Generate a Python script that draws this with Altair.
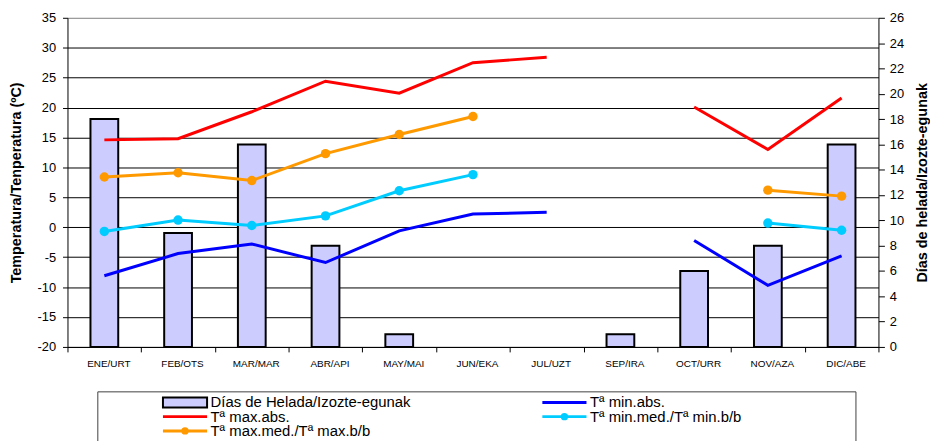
import altair as alt
import pandas as pd

months = ["ENE/URT", "FEB/OTS", "MAR/MAR", "ABR/API", "MAY/MAI", "JUN/EKA",
          "JUL/UZT", "AGO/ABU", "SEP/IRA", "OCT/URR", "NOV/AZA", "DIC/ABE"]
frost_days = [18, 9, 16, 8, 1, 0, 0, 0, 1, 6, 8, 16]
t_min_abs = [-8.1, -4.4, -2.8, -5.9, -0.6, 2.2, 2.5, None, None, -2.2, -9.7, -4.8]
t_max_abs = [14.6, 14.8, 19.3, 24.4, 22.4, 27.5, 28.4, None, None, 20.1, 13.0, 21.6]
t_min_med = [-0.7, 1.2, 0.3, 1.9, 6.1, 8.8, None, None, None, None, 0.7, -0.5]
t_max_med = [8.4, 9.1, 7.8, 12.3, 15.5, 18.5, None, None, None, None, 6.2, 5.2]

lbl_bar = "Días de Helada/Izozte-egunak"
lbl_min_abs = "Tª min.abs."
lbl_max_abs = "Tª max.abs."
lbl_min_med = "Tª min.med./Tª min.b/b"
lbl_max_med = "Tª max.med./Tª max.b/b"

series_names = [lbl_min_abs, lbl_max_abs, lbl_min_med, lbl_max_med]
series_vals = [t_min_abs, t_max_abs, t_min_med, t_max_med]
series_colors = ["#0000FF", "#FF0000", "#00CCFF", "#FF9900"]
marker_series = [lbl_min_med, lbl_max_med]

temp_ticks = [-20, -15, -10, -5, 0, 5, 10, 15, 20, 25, 30, 35]
day_ticks = [0, 2, 4, 6, 8, 10, 12, 14, 16, 18, 20, 22, 24, 26]

FONT = "Liberation Sans"

df_bars = pd.DataFrame({"month": months, "days": frost_days})

rows = []
for name, vals in zip(series_names, series_vals):
    seg = 0
    for m, v in zip(months, vals):
        if v is None:
            seg += 1
            continue
        rows.append({"month": m, "series": name, "value": v, "seg": f"{name}-{seg}"})
df_lines = pd.DataFrame(rows)

x_enc = alt.X(
    "month:N", sort=months,
    scale=alt.Scale(paddingInner=0, paddingOuter=0),
    axis=alt.Axis(title=None, labelAngle=0, tickBand="extent", grid=False,
                  labelFont="Liberation Sans Narrow, Arial Narrow, Liberation Sans",
                  labelFontSize=10, labelColor="black", labelPadding=7,
                  labelOffset=4, domainColor="black", tickColor="black",
                  tickSize=5),
)

bars = alt.Chart(df_bars).transform_filter("datum.days > 0").mark_bar(
    width=28, fill="#CCCCFF", stroke="black", strokeWidth=2
).encode(
    x=x_enc,
    y=alt.Y("days:Q", scale=alt.Scale(domain=[0, 26], nice=False, zero=True),
            axis=alt.Axis(orient="right", values=day_ticks,
                          title="Días de helada/Izozte-egunak", grid=False,
                          titleFont=FONT, titleFontSize=14.5, titleFontWeight="bold",
                          titleColor="black", titleAngle=270, titleX=44, titleY=166,
                          titleBaseline="middle", titleAlign="center",
                          labelFontSize=13, labelColor="black", labelPadding=5,
                          labelOverlap=False,
                          domainColor="black", tickColor="black", tickSize=6)),
)

temp_scale = alt.Scale(domain=[-20, 35], nice=False, zero=False)
left_axis = alt.Axis(orient="left", values=temp_ticks,
                     title="Temperatura/Tenperatura (ºC)",
                     titleFont=FONT, titleFontSize=14.5, titleFontWeight="bold",
                     titleColor="black", titleAngle=270, titleX=-51, titleY=166,
                     titleBaseline="middle", titleAlign="center",
                     labelFontSize=13, labelColor="black", labelPadding=7,
                     labelOverlap=False, labelExpr="'' + datum.value",
                     domainColor="black", tickColor="black", tickSize=5,
                     grid=True, gridWidth=1,
                     gridColor={"condition": {"test": "datum.value === 35",
                                              "value": "#808080"},
                                "value": "#000000"})
color_enc = alt.Color("series:N", scale=alt.Scale(domain=series_names, range=series_colors),
                      legend=None)

lines = alt.Chart(df_lines).mark_line(strokeWidth=3).encode(
    x=x_enc,
    y=alt.Y("value:Q", scale=temp_scale, axis=left_axis),
    color=color_enc,
    detail="seg:N",
)

points = alt.Chart(df_lines).transform_filter(
    alt.FieldOneOfPredicate(field="series", oneOf=marker_series)
).mark_point(filled=True, shape="circle", size=90, opacity=1).encode(
    x=x_enc,
    y=alt.Y("value:Q", scale=temp_scale, axis=left_axis),
    color=color_enc,
)

temp = alt.layer(lines, points)

one = alt.Data(values=[{"k": 0}])
leg = []
leg.append(alt.Chart(one).mark_rect(fill="white", stroke="#404040", strokeWidth=1).encode(
    x=alt.value(30.6), x2=alt.value(795.3), y=alt.value(377.3), y2=alt.value(460)))

col1_x, col2_x = 96.3, 479.0
sym_w = 44.5
row_y = [388, 402.3, 416.7]

entries = [
    (lbl_bar, None, "bar", col1_x, row_y[0]),
    (lbl_min_abs, "#0000FF", "line", col2_x, row_y[0]),
    (lbl_max_abs, "#FF0000", "line", col1_x, row_y[1]),
    (lbl_min_med, "#00CCFF", "marker", col2_x, row_y[1]),
    (lbl_max_med, "#FF9900", "marker", col1_x, row_y[2]),
]
for label, col, kind, sx, sy in entries:
    if kind == "bar":
        leg.append(alt.Chart(one).mark_rect(fill="#CCCCFF", stroke="black", strokeWidth=2).encode(
            x=alt.value(sx), x2=alt.value(sx + sym_w), y=alt.value(sy - 5), y2=alt.value(sy + 5)))
    else:
        leg.append(alt.Chart(one).mark_rule(color=col, strokeWidth=3).encode(
            x=alt.value(sx), x2=alt.value(sx + sym_w), y=alt.value(sy)))
        if kind == "marker":
            leg.append(alt.Chart(one).mark_point(filled=True, shape="circle", size=55,
                                                 color=col, opacity=1).encode(
                x=alt.value(sx + sym_w / 2), y=alt.value(sy)))
    leg.append(alt.Chart(one).mark_text(align="left", baseline="middle", font=FONT,
                                        fontSize=15, color="black").encode(
        x=alt.value(sx + sym_w + 3.5), y=alt.value(sy), text=alt.value(label)))

chart = alt.layer(bars, temp, *leg).resolve_scale(y="independent").properties(
    width=818, height=332,
    autosize=alt.AutoSizeParams(type="none"),
    padding={"left": 60, "top": 8, "right": 52, "bottom": 93},
).configure(font=FONT).configure_view(stroke="transparent")

chart.save("out.html", embed_options={"renderer": "svg", "actions": False})
